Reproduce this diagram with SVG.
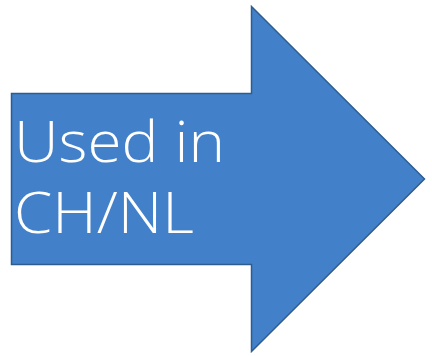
<svg xmlns="http://www.w3.org/2000/svg" width="432" height="356" viewBox="0 0 432 356">
<style>
.arrow{fill:#4281C9;stroke:#2F5C8F;stroke-width:1.5;stroke-linejoin:miter}
.lbl{font-family:"Open Sans","Liberation Sans",sans-serif;font-size:57px;fill:#FFFFFF;font-weight:300}
</style>
<g id="arrow">
<polygon class="arrow" points="11.5,93.5 251.5,93.5 251.5,6.5 424.5,179 251.5,351.5 251.5,264.5 11.5,264.5"/>
<text class="lbl" x="14" y="162" textLength="211" lengthAdjust="spacingAndGlyphs">Used in</text>
<text class="lbl" x="14" y="233" textLength="180" lengthAdjust="spacingAndGlyphs">CH/NL</text>
</g>
</svg>
